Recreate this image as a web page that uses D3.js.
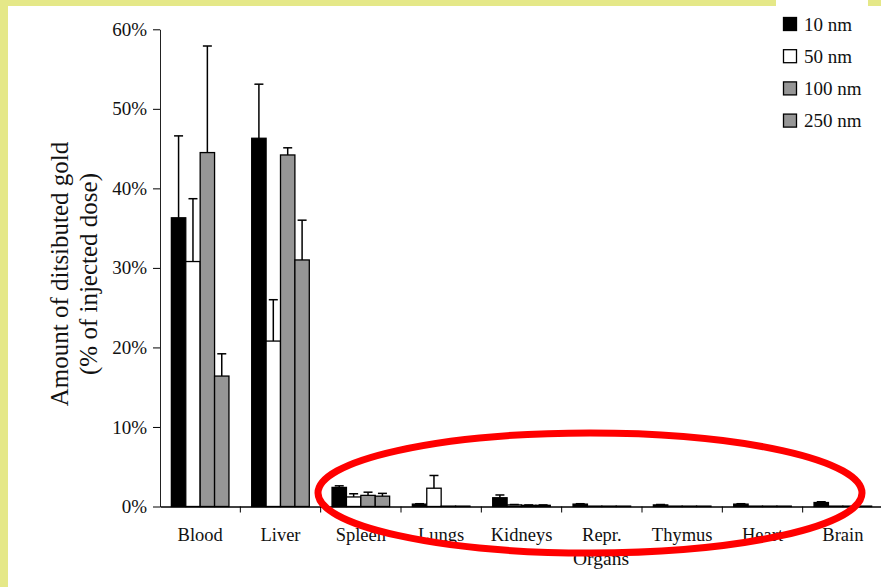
<!DOCTYPE html>
<html>
<head>
<meta charset="utf-8">
<script src="https://cdn.jsdelivr.net/npm/d3@7"></script>
<style>
  body { margin: 0; background: #fff; }
  svg { display: block; font-family: "Liberation Serif", "Times New Roman", serif; }
</style>
</head>
<body>
<svg id="chart" width="881" height="587"></svg>
<script>
// organs on the x axis
const organs = ['Blood', 'Liver', 'Spleen', 'Lungs', 'Kidneys', 'Repr.', 'Thymus', 'Heart', 'Brain']
const sizes = ['10 nm', '50 nm', '100 nm', '250 nm']

// mean % of injected dose, per particle size
const gold10 = [36.3, 46.3, 2.4, 0.3, 1.1, 0.3, 0.2, 0.3, 0.5]
const gold50 = [30.8, 20.8, 1.2, 2.3, 0.2, 0.05, 0.05, 0.05, 0.05]
const gold100 = [44.5, 44.2, 1.4, 0.05, 0.15, 0.05, 0.05, 0.05, 0.05]
const gold250 = [16.4, 31.0, 1.3, 0.05, 0.15, 0.05, 0.05, 0.05, 0.05]

// upper error (sd)
const err10 = [10.3, 6.8, 0.2, 0.05, 0.35, 0.05, 0.05, 0.05, 0.1]
const err50 = [7.9, 5.2, 0.4, 1.6, 0.05, 0, 0, 0, 0]
const err100 = [13.4, 0.9, 0.4, 0, 0.05, 0, 0, 0, 0]
const err250 = [2.8, 5.0, 0.35, 0, 0.05, 0, 0, 0, 0]

const yTicks = [0, 10, 20, 30, 40, 50, 60]

const fills = ['#000000', '#ffffff', '#969696', '#969696']

const values = [gold10, gold50, gold100, gold250]
const errors = [err10, err50, err100, err250]

let rows = []
organs.forEach((o, i) => {
    sizes.forEach((s, j) => {
        rows.push({organ: o, size: s, value: values[j][i], err: errors[j][i], idx: j})
    })
})

const svg = d3.select('#chart')

// yellow frame + white panel
svg.append('rect').attr('width', 881).attr('height', 587).attr('fill', '#e5e888')
svg.append('rect').attr('x', 8).attr('y', 6).attr('width', 873).attr('height', 581).attr('fill', '#fff')

const x0 = d3.scaleBand().domain(organs).range([160, 883]).paddingInner(0).paddingOuter(0)
const x1 = d3.scaleBand().domain(sizes).range([0, x0.bandwidth()]).paddingInner(0).paddingOuter(0.79)
const y = d3.scaleLinear().domain([0, 60]).range([506.5, 29.3])

// bars
svg.append('g')
    .selectAll('rect')
    .data(rows)
    .join('rect')
        .attr('x', d => x0(d.organ) + x1(d.size))
        .attr('y', d => y(d.value))
        .attr('width', x1.bandwidth())
        .attr('height', d => y(0) - y(d.value))
        .attr('fill', d => fills[d.idx])
        .attr('stroke', '#000')
        .attr('stroke-width', 1.3)

// error bars (upper only)
const eb = svg.append('g').attr('stroke', '#000').attr('stroke-width', 1.5)
rows.filter(d => d.err > 0).forEach(d => {
    let cx = x0(d.organ) + x1(d.size) + x1.bandwidth() / 2
    eb.append('line').attr('x1', cx).attr('x2', cx).attr('y1', y(d.value)).attr('y2', y(d.value + d.err))
    eb.append('line').attr('x1', cx - 4.5).attr('x2', cx + 4.5).attr('y1', y(d.value + d.err)).attr('y2', y(d.value + d.err))
})

// y axis
const yAxis = svg.append('g')
    .attr('transform', 'translate(160,0)')
    .call(d3.axisLeft(y).tickValues(yTicks).tickFormat(d => d + '%').tickSize(7).tickSizeOuter(0))
yAxis.select('.domain').attr('stroke', '#222')
yAxis.selectAll('text').attr('font-family', 'Liberation Serif').attr('font-size', 19).attr('fill', '#111').attr('x', -13)

// x axis
const xAxis = svg.append('g')
    .attr('transform', `translate(0,${y(0)})`)
    .call(d3.axisBottom(x0).tickSize(0).tickSizeOuter(0))
xAxis.select('.domain').attr('stroke', '#000').attr('stroke-width', 1.3)
xAxis.selectAll('text').attr('font-family', 'Liberation Serif').attr('font-size', 18.5).attr('fill', '#111').attr('dy', 0).attr('y', 34)
// boundary ticks between organs
svg.append('g')
    .selectAll('line')
    .data(organs.slice(1))
    .join('line')
        .attr('x1', d => x0(d)).attr('x2', d => x0(d))
        .attr('y1', y(0)).attr('y2', y(0) + 6)
        .attr('stroke', '#000')

// axis titles
svg.append('text')
    .attr('x', 601).attr('y', 565)
    .attr('text-anchor', 'middle')
    .attr('font-size', 19.5)
    .attr('fill', '#111')
    .text('Organs')

const yTitle = svg.append('text')
    .attr('transform', 'translate(0,274) rotate(-90)')
    .attr('text-anchor', 'middle')
    .attr('font-size', 25)
    .attr('fill', '#111')
yTitle.append('tspan').attr('x', 0).attr('y', 68).text('Amount of ditsibuted gold')
yTitle.append('tspan').attr('x', 0).attr('y', 97).text('(% of injected dose)')

// legend
svg.append('rect').attr('x', 776).attr('y', 0).attr('width', 92).attr('height', 140).attr('fill', '#fff')
const leg = svg.append('g')
sizes.forEach((s, i) => {
    let ly = 24 + i * 32.2
    leg.append('rect')
        .attr('x', 783.5).attr('y', ly - 6.5)
        .attr('width', 13).attr('height', 13)
        .attr('fill', fills[i]).attr('stroke', '#000').attr('stroke-width', 1.3)
    leg.append('text')
        .attr('x', 804).attr('y', ly + 6.5)
        .attr('font-size', 19)
        .attr('fill', '#111')
        .text(s)
})

// red highlight round the small organs
svg.append('ellipse')
    .attr('cx', 590).attr('cy', 493)
    .attr('rx', 272).attr('ry', 60)
    .attr('fill', 'none')
    .attr('stroke', '#ff0000')
    .attr('stroke-width', 7)
</script>
</body>
</html>
